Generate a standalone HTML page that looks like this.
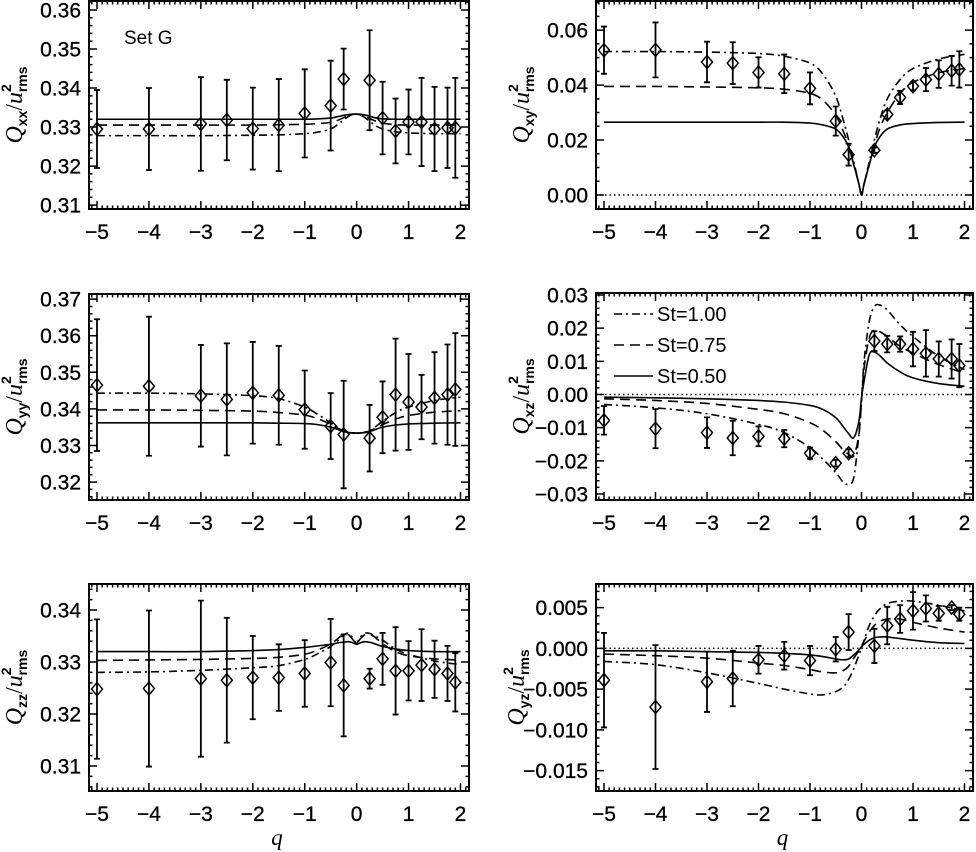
<!DOCTYPE html>
<html><head><meta charset="utf-8"><style>
body{margin:0;background:#fff;}
svg{display:block;font-family:"Liberation Sans",sans-serif;}
</style></head><body>
<svg id="fig" width="976" height="852" viewBox="0 0 976 852" xmlns="http://www.w3.org/2000/svg"></svg>
<script>
// shared q positions for simulation data points
const dataQ = [-5,-4,-3,-2.5,-2,-1.5,-1,-0.5,-0.25,0.25,0.5,0.75,1,1.25,1.5,1.75,1.9];
// q samples for model curves
const curveQ = [-5,-4,-3,-2,-1.5,-1,-0.75,-0.5,-0.35,-0.25,-0.15,-0.05,0,0.05,0.15,0.25,0.35,0.5,0.75,1,1.5,2];
const xTicks = [-5,-4,-3,-2,-1,0,1,2];

// Qxx
const xxVals = [.3295,.3295,.3308,.3318,.3296,.3305,.3335,.3355,.3423,.3420,.3323,.3290,.3313,.3313,.3295,.3298,.3298];
const xxErr  = [.010,.0105,.012,.0103,.0105,.0118,.0113,.0115,.0078,.0128,.0093,.0083,.0083,.0113,.0108,.0103,.0128];
const xxSolid = [.332,.332,.332,.332,.332,.332,.3321,.3323,.3327,.333,.3332,.3333,.3333,.3333,.3331,.3328,.3324,.3321,.332,.332,.332,.332];
const xxDash  = [.3305,.3305,.3305,.3305,.3306,.3307,.3309,.3312,.3318,.3324,.333,.3333,.3333,.3332,.3328,.3322,.3316,.331,.3306,.3305,.3305,.3305];
const xxDashDot = [.3278,.3278,.3278,.3279,.328,.3283,.3287,.3295,.3308,.3318,.3328,.3333,.3333,.3332,.3325,.3315,.3305,.3295,.3288,.3285,.3283,.3283];
const xxTicks = [0.31,0.32,0.33,0.34,0.35,0.36];
const xxTickLabels = ["0.31","0.32","0.33","0.34","0.35","0.36"];

// Qxy
const xyVals = [.0527,.0528,.0484,.048,.0446,.0441,.0388,.0269,.0147,.0163,.0293,.0355,.0396,.042,.044,.0452,.0457];
const xyErr  = [.0086,.010,.0074,.0076,.0055,.007,.0058,.0053,.004,.001,.0015,.0024,.0015,.0042,.005,.0054,.0066];
const xySolid = [.0265,.0265,.0265,.0265,.0265,.0262,.0255,.024,.021,.0175,.011,.004,0,.004,.011,.0175,.021,.024,.0255,.026,.0264,.0265];
const xyDash  = [.0395,.0395,.0393,.039,.0385,.037,.0345,.029,.023,.018,.011,.004,0,.004,.011,.018,.024,.030,.037,.041,.0445,.046];
const xyDashDot = [.0522,.0522,.052,.0515,.0505,.048,.044,.036,.027,.02,.012,.004,0,.004,.012,.02,.027,.035,.042,.046,.0495,.0512];
const xyTicks = [0,0.02,0.04,0.06];
const xyTickLabels = ["0.00","0.02","0.04","0.06"];

// Qyy
const yyVals = [.3465,.3462,.3436,.3426,.3444,.3437,.3398,.3353,.333,.332,.3377,.3439,.3419,.3405,.343,.3439,.3453];
const yyErr  = [.0180,.0190,.0139,.0153,.0139,.0135,.0107,.009,.0147,.0091,.0098,.0153,.0131,.0088,.0125,.0137,.0154];
const yySolid = [.3362,.3362,.3362,.3362,.3361,.336,.3357,.3350,.3343,.3338,.3335,.3334,.3334,.3334,.3335,.3338,.3343,.3350,.3356,.3359,.3361,.3362];
const yyDash  = [.3397,.3397,.3396,.3394,.339,.3383,.3373,.3358,.3346,.334,.3336,.3334,.3334,.3334,.3336,.334,.3346,.3357,.3372,.3382,.3391,.3395];
const yyDashDot = [.3443,.3443,.3441,.3436,.3428,.3405,.3385,.3362,.3348,.3341,.3336,.3334,.3334,.3334,.3336,.3341,.335,.3366,.339,.3405,.3423,.3432];
const yyTicks = [0.32,0.33,0.34,0.35,0.36,0.37];
const yyTickLabels = ["0.32","0.33","0.34","0.35","0.36","0.37"];

// Qxz
const xzVals = [-.0078,-.0103,-.0115,-.0131,-.0126,-.0133,-.0177,-.0207,-.0177,.0161,.0152,.0152,.0137,.0124,.0107,.0107,.0087];
const xzErr  = [.0043,.0059,.0046,.0052,.003,.0026,.0017,.001,.0012,.003,.0025,.0023,.0052,.007,.0053,.0059,.0065];
const xzSolid = [-.0008,-.0010,-.0013,-.0018,-.0023,-.0033,-.0045,-.0070,-.0098,-.0118,-.013,-.008,-.001,.004,.012,.0128,.0118,.0095,.0068,.005,.0033,.0025];
const xzDash  = [-.0013,-.0018,-.0027,-.0045,-.0058,-.0085,-.0108,-.0142,-.0168,-.018,-.0185,-.012,-.002,.008,.017,.0195,.019,.0175,.0145,.0125,.009,.0065];
const xzDashDot = [-.003,-.004,-.0058,-.009,-.0115,-.016,-.0195,-.0235,-.0265,-.027,-.025,-.012,-.002,.01,.022,.0265,.027,.0255,.021,.0175,.0115,.0075];
const xzTicks = [-0.03,-0.02,-0.01,0,0.01,0.02,0.03];
const xzTickLabels = ["\u22120.03","\u22120.02","\u22120.01","0.00","0.01","0.02","0.03"];

// Qzz
const zzVals = [.3248,.3249,.3268,.3265,.327,.327,.3278,.3299,.3255,.3268,.3306,.3283,.3283,.3294,.3286,.3278,.3261];
const zzErr  = [.0134,.015,.015,.012,.008,.0064,.0064,.0084,.0098,.0019,.005,.0084,.0057,.0069,.0055,.0053,.0056];
const zzSolid = [.332,.332,.332,.3322,.3324,.3328,.3331,.3334,.3337,.3338,.3339,.3336,.3334,.3336,.3339,.3338,.3335,.333,.3325,.3322,.332,.332];
const zzDash  = [.3303,.3304,.3305,.3307,.3309,.3315,.3323,.3335,.3346,.3353,.3352,.3340,.3335,.3342,.3352,.3353,.3348,.3335,.332,.3312,.3306,.3304];
const zzDashDot = [.328,.3281,.3284,.3289,.3293,.3305,.3316,.333,.3342,.3352,.3355,.3342,.3335,.3345,.3355,.3355,.335,.3342,.3325,.3315,.3302,.3295];
const zzTicks = [0.31,0.32,0.33,0.34];
const zzTickLabels = ["0.31","0.32","0.33","0.34"];

// Qyz
const yzVals = [-.0039,-.0072,-.0041,-.0037,-.0014,-.0009,-.0015,-.0001,.002,.0003,.0028,.0036,.0046,.0049,.0043,.005,.0042];
const yzErr  = [.0058,.0076,.0037,.0034,.0017,.0017,.0018,.0015,.0022,.0021,.0023,.0017,.0023,.0016,.0009,.0003,.0008];
const yzSolid = [-.0003,-.0003,-.0004,-.0005,-.0006,-.0008,-.001,-.0013,-.0014,-.0013,-.0008,-.0002,.0002,.0005,.001,.0013,.0014,.0014,.0012,.001,.0007,.0006];
const yzDash  = [-.0007,-.0009,-.0012,-.0018,-.0021,-.0026,-.0029,-.003,-.0027,-.0022,-.0012,-.0003,.0003,.0009,.002,.0028,.0033,.0036,.0036,.0032,.0025,.002];
const yzDashDot = [-.0016,-.002,-.003,-.0043,-.005,-.0056,-.0057,-.0053,-.0047,-.0038,-.0025,-.0008,0,.001,.0028,.004,.0048,.0055,.0058,.0058,.0053,.0046];
const yzTicks = [-0.015,-0.01,-0.005,0,0.005];
const yzTickLabels = ["\u22120.015","\u22120.010","\u22120.005","0.000","0.005"];

const legendLabels = ["St=1.00","St=0.75","St=0.50"];

const NS = "http://www.w3.org/2000/svg";
const svg = document.getElementById('fig');
function mk(tag, attrs, parent){
  const e = document.createElementNS(NS, tag);
  for (const k in attrs) e.setAttribute(k, attrs[k]);
  (parent||svg).appendChild(e);
  return e;
}
function spline(pts){
  let d = "M"+pts[0][0].toFixed(2)+","+pts[0][1].toFixed(2);
  for (let i=0;i<pts.length-1;i++){
    const p0=pts[Math.max(0,i-1)], p1=pts[i], p2=pts[i+1], p3=pts[Math.min(pts.length-1,i+2)];
    const c1x=p1[0]+(p2[0]-p0[0])/6, c1y=p1[1]+(p2[1]-p0[1])/6;
    const c2x=p2[0]-(p3[0]-p1[0])/6, c2y=p2[1]-(p3[1]-p1[1])/6;
    d += " C"+c1x.toFixed(2)+","+c1y.toFixed(2)+" "+c2x.toFixed(2)+","+c2y.toFixed(2)+" "+p2[0].toFixed(2)+","+p2[1].toFixed(2);
  }
  return d;
}

const panels = [
  {id:"xx", sub:"xx", L:89, R:469, T:1, B:209, y0:0.309, y1:0.3623, vals:xxVals, err:xxErr, s:xxSolid, d:xxDash, dd:xxDashDot, ticks:xxTicks, labs:xxTickLabels, minor:0.002, zero:false, ql:false},
  {id:"xy", sub:"xy", L:596, R:973, T:1, B:209, y0:-0.0051, y1:0.0706, vals:xyVals, err:xyErr, s:xySolid, d:xyDash, dd:xyDashDot, ticks:xyTicks, labs:xyTickLabels, minor:0.005, zero:true, ql:false},
  {id:"yy", sub:"yy", L:89, R:469, T:294, B:500, y0:0.3151, y1:0.3714, vals:yyVals, err:yyErr, s:yySolid, d:yyDash, dd:yyDashDot, ticks:yyTicks, labs:yyTickLabels, minor:0.002, zero:false, ql:false},
  {id:"xz", sub:"xz", L:596, R:973, T:293, B:500, y0:-0.0318, y1:0.0306, vals:xzVals, err:xzErr, s:xzSolid, d:xzDash, dd:xzDashDot, ticks:xzTicks, labs:xzTickLabels, minor:0.002, zero:true, ql:false},
  {id:"zz", sub:"zz", L:89, R:469, T:584, B:791, y0:0.3052, y1:0.345, vals:zzVals, err:zzErr, s:zzSolid, d:zzDash, dd:zzDashDot, ticks:zzTicks, labs:zzTickLabels, minor:0.002, zero:false, ql:true},
  {id:"yz", sub:"yz", L:596, R:973, T:584, B:791, y0:-0.0175, y1:0.0079, vals:yzVals, err:yzErr, s:yzSolid, d:yzDash, dd:yzDashDot, ticks:yzTicks, labs:yzTickLabels, minor:0.001, zero:true, ql:true}
];

panels.forEach(p=>{
  const g = mk('g',{});
  
  
  const xa = p.L+8, xb = p.R-8.5;
  const X = q => xa + (q+5)/7*(xb-xa);
  const Y = v => p.B - (v-p.y0)/(p.y1-p.y0)*(p.B-p.T);
  const clip = 'clip-'+p.id;
  const cp = mk('clipPath',{id:clip}, g);
  mk('rect',{x:p.L,y:p.T,width:p.R-p.L,height:p.B-p.T}, cp);
  const plot = mk('g',{'clip-path':'url(#'+clip+')'}, g);
  
  
  if (p.zero){
    const z = mk('line',{x1:p.L,x2:p.R,y1:Y(0),y2:Y(0),stroke:'#000','stroke-width':1.5,'stroke-dasharray':'1.5,3'}, plot);
    
    
  }
  const styles = [[p.dd,'8,4,2,4','dashdot'],[p.d,'10,6','dashed'],[p.s,'','solid']];
  styles.forEach(st=>{
    const pts = curveQ.map((q,i)=>[X(q), Y(st[0][i])]);
    const a = {d:spline(pts), fill:'none', stroke:'#000', 'stroke-width':1.6};
    if (st[1]) a['stroke-dasharray']=st[1];
    const c = mk('path', a, plot);
    
    
  });
  dataQ.forEach((q,i)=>{
    const x = X(q), y = Y(p.vals[i]), yt = Y(p.vals[i]+p.err[i]), yb = Y(p.vals[i]-p.err[i]);
    const eb = mk('path',{d:`M${x},${yt}V${yb}M${x-3},${yt}H${x+3}M${x-3},${yb}H${x+3}`, stroke:'#000','stroke-width':1.8, fill:'none'}, plot);
    
    
    const dm = mk('path',{d:`M${x},${y-6.5}L${x+5.5},${y}L${x},${y+6.5}L${x-5.5},${y}Z`, stroke:'#000','stroke-width':1.5, fill:'none'}, plot);
    
    
  });
  const fr = mk('rect',{x:p.L,y:p.T,width:p.R-p.L,height:p.B-p.T,fill:'none',stroke:'#000','stroke-width':2}, g);
  
  
  let td = "";
  for (let q=-5.1; q<=2.15; q+=0.1){
    const x = X(q);
    if (x<p.L||x>p.R) continue;
    const major = Math.abs(q-Math.round(q))<1e-6;
    const len = major?8:3.5;
    td += `M${x},${p.B}V${p.B-len}M${x},${p.T}V${p.T+len}`;
  }
  const nmin = Math.ceil(p.y0/p.minor), nmax = Math.floor(p.y1/p.minor);
  for (let k=nmin;k<=nmax;k++){
    const y = Y(k*p.minor);
    td += `M${p.L},${y}H${p.L+3.5}M${p.R},${y}H${p.R-3.5}`;
  }
  p.ticks.forEach(v=>{ const y=Y(v); td += `M${p.L},${y}H${p.L+8}M${p.R},${y}H${p.R-8}`; });
  mk('path',{d:td, stroke:'#000','stroke-width':1.5, fill:'none'}, g);
  p.ticks.forEach((v,i)=>{
    const t = mk('text',{x:p.L-8, y:Y(v)+7.5, 'text-anchor':'end','font-size':21,stroke:'#000','stroke-width':0.3}, g);
    t.textContent = p.labs[i];
    
    
  });
  xTicks.forEach(v=>{
    const t = mk('text',{x:X(v), y:p.B+30, 'text-anchor':'middle','font-size':21,stroke:'#000','stroke-width':0.3}, g);
    t.textContent = v<0 ? "\u2212"+Math.abs(v) : String(v);
    
    
  });
  const cy = (p.T+p.B)/2, tx = p.L - (p.id==="yz"?72:67);
  const yt = mk('text',{x:tx, y:cy, transform:`rotate(-90 ${tx} ${cy})`, 'text-anchor':'middle','font-size':24,'font-family':'"Liberation Serif",serif'}, g);
  
  
  yt.innerHTML = `<tspan font-style="italic">Q</tspan><tspan font-size="14" dy="5" font-weight="bold" font-family="Liberation Sans">${p.sub}</tspan><tspan dy="-5">/</tspan><tspan font-style="italic">u</tspan><tspan font-size="14" dy="-11" font-weight="bold" font-family="Liberation Sans">2</tspan><tspan font-size="14" dx="-8" dy="16" font-weight="bold" font-family="Liberation Sans">rms</tspan>`;
  if (p.ql){
    const xt = mk('text',{x:(p.L+p.R)/2-2, y:845,'text-anchor':'middle','font-size':23,'font-style':'italic','font-family':'"Liberation Serif",serif'}, g);
    xt.textContent = 'q';
    
    
  }
});

const sg = mk('text',{x:124,y:44,'font-size':19});
sg.textContent = 'Set G';



const dashes = ['8,4,2,4','10,6',''];
legendLabels.forEach((lab,i)=>{
  const y = 314 + i*31;
  const g = mk('g',{});
  
  
  const a = {x1:614,x2:653,y1:y,y2:y,stroke:'#000','stroke-width':1.6};
  if (dashes[i]) a['stroke-dasharray']=dashes[i];
  mk('line',a,g);
  const t = mk('text',{x:657,y:y+7,'font-size':20},g);
  t.textContent = lab;
});
</script>
</body></html>
